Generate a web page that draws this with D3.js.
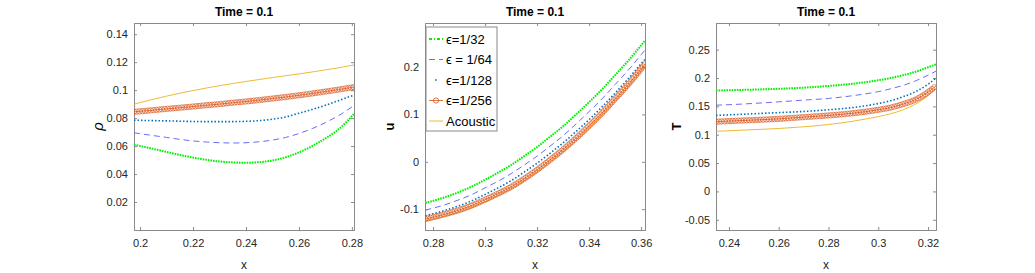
<!DOCTYPE html>
<html>
<head>
<meta charset="utf-8">
<script src="https://cdn.jsdelivr.net/npm/d3@7"></script>
<style>
body { margin: 0; background: #fff; }
svg text { font-family: "Liberation Sans", Arial, sans-serif; fill: #262626; }
</style>
</head>
<body>
<script>
// series names / legend
var labels = ["\u03f5=1/32", "\u03f5 = 1/64", "\u03f5=1/128", "\u03f5=1/256", "Acoustic"];

// panel 1: rho
var x1 = [0.1977, 0.205, 0.21, 0.215, 0.22, 0.225, 0.23, 0.235, 0.24, 0.245, 0.25, 0.255, 0.26, 0.265, 0.27, 0.275, 0.2808];
var rho32  = [0.0610, 0.0580, 0.0558, 0.0537, 0.0518, 0.0502, 0.0490, 0.0483, 0.0481, 0.0485, 0.0497, 0.0520, 0.0555, 0.0600, 0.0655, 0.0720, 0.0830];
var rho64  = [0.0695, 0.0675, 0.0662, 0.0648, 0.0637, 0.0629, 0.0624, 0.0622, 0.0624, 0.0631, 0.0643, 0.0662, 0.0690, 0.0725, 0.0768, 0.0818, 0.0890];
var rho128 = [0.0785, 0.0782, 0.0780, 0.0778, 0.0776, 0.0775, 0.0775, 0.0775, 0.0777, 0.0782, 0.0792, 0.0808, 0.0835, 0.0862, 0.0892, 0.0925, 0.0965];
var rho256 = [0.0845, 0.0857, 0.0866, 0.0874, 0.0883, 0.0892, 0.0900, 0.0910, 0.0919, 0.0929, 0.0940, 0.0951, 0.0963, 0.0976, 0.0990, 0.1004, 0.1022];
var rhoAc  = [0.0900, 0.0935, 0.0957, 0.0978, 0.0997, 0.1015, 0.1032, 0.1047, 0.1062, 0.1076, 0.1090, 0.1103, 0.1116, 0.1130, 0.1145, 0.1160, 0.1180];

// panel 2: u
var x2 = [0.277, 0.285, 0.29, 0.295, 0.30, 0.305, 0.31, 0.315, 0.32, 0.325, 0.33, 0.335, 0.34, 0.345, 0.35, 0.355, 0.36, 0.3615];
var u32  = [-0.087, -0.074, -0.064, -0.052, -0.038, -0.023, -0.007, 0.012, 0.031, 0.053, 0.075, 0.100, 0.126, 0.153, 0.183, 0.213, 0.246, 0.256];
var u64  = [-0.102, -0.090, -0.080, -0.069, -0.055, -0.041, -0.025, -0.007, 0.012, 0.033, 0.055, 0.080, 0.106, 0.133, 0.163, 0.193, 0.226, 0.236];
var u128 = [-0.114, -0.102, -0.093, -0.082, -0.069, -0.055, -0.040, -0.022, -0.003, 0.018, 0.040, 0.064, 0.089, 0.116, 0.145, 0.175, 0.207, 0.216];
var u256 = [-0.121, -0.110, -0.102, -0.092, -0.080, -0.067, -0.053, -0.036, -0.017, 0.004, 0.026, 0.050, 0.076, 0.103, 0.133, 0.163, 0.196, 0.206];
var uAc  = [-0.125, -0.114, -0.106, -0.096, -0.084, -0.071, -0.057, -0.040, -0.021, 0.000, 0.022, 0.046, 0.072, 0.099, 0.129, 0.159, 0.192, 0.202];

// panel 3: T
var x3 = [0.2348, 0.245, 0.26, 0.27, 0.28, 0.29, 0.30, 0.305, 0.31, 0.315, 0.32, 0.3232];
var T32  = [0.178, 0.179, 0.181, 0.183, 0.186, 0.190, 0.196, 0.200, 0.205, 0.211, 0.219, 0.224];
var T64  = [0.152, 0.154, 0.158, 0.161, 0.164, 0.169, 0.176, 0.181, 0.187, 0.195, 0.205, 0.212];
var T128 = [0.134, 0.136, 0.139, 0.141, 0.144, 0.148, 0.155, 0.160, 0.167, 0.176, 0.189, 0.200];
var T256 = [0.123, 0.125, 0.128, 0.131, 0.134, 0.138, 0.144, 0.148, 0.154, 0.162, 0.175, 0.186];
var TAc  = [0.106, 0.108, 0.111, 0.114, 0.118, 0.124, 0.132, 0.137, 0.144, 0.154, 0.169, 0.182];

// ticks
var xt1 = [0.2, 0.22, 0.24, 0.26, 0.28], yt1 = [0.02, 0.04, 0.06, 0.08, 0.1, 0.12, 0.14];
var xt2 = [0.28, 0.3, 0.32, 0.34, 0.36], yt2 = [-0.1, 0, 0.1, 0.2];
var xt3 = [0.24, 0.26, 0.28, 0.3, 0.32], yt3 = [-0.05, 0, 0.05, 0.1, 0.15, 0.2, 0.25];

var styles = [
  {color: "#00f000", width: 2, dash: "1.6,1"},
  {color: "#6b6bff", width: 1, dash: "6,4"},
  {color: "#0072bd", width: 1.6, dash: "1.5,2"},
  {color: "#d95319", width: 0.8, dash: null, marker: true},
  {color: "#edb120", width: 0.9, dash: null}
];

var panels = [
  {left: 134, xd: [0.1977, 0.2808], yd: [0, 0.148], xs: x1, ys: [rho32, rho64, rho128, rho256, rhoAc], xt: xt1, yt: yt1, ylab: "\u03c1", ylabX: 98, italic: true},
  {left: 425, xd: [0.2769, 0.3615], yd: [-0.144, 0.293], xs: x2, ys: [u32, u64, u128, u256, uAc], xt: xt2, yt: yt2, ylab: "u", ylabX: 389, bold: true},
  {left: 716, xd: [0.2348, 0.3232], yd: [-0.068, 0.297], xs: x3, ys: [T32, T64, T128, T256, TAc], xt: xt3, yt: yt3, ylab: "T", ylabX: 676, bold: true}
];

var W = 1035, H = 273, plotTop = 23, plotBottom = 230, pw = 220;
var svg = d3.select("body").append("svg").attr("width", W).attr("height", H);
var fmt = function(v) { return String(+v.toFixed(3)); };

panels.forEach(function(p, i) {
  var x = d3.scaleLinear().domain(p.xd).range([p.left, p.left + pw]);
  var y = d3.scaleLinear().domain(p.yd).range([plotBottom, plotTop]);
  var g = svg.append("g");

  svg.append("clipPath").attr("id", "clip" + i).append("rect")
    .attr("x", p.left).attr("y", plotTop).attr("width", pw).attr("height", plotBottom - plotTop);

  // axes with inward ticks on all sides
  g.append("g").attr("transform", "translate(0," + plotBottom + ")")
    .call(d3.axisBottom(x).tickValues(p.xt).tickSize(-3).tickPadding(9).tickFormat(fmt));
  g.append("g").attr("transform", "translate(0," + plotTop + ")")
    .call(d3.axisTop(x).tickValues(p.xt).tickSize(-3).tickFormat(""));
  g.append("g").attr("transform", "translate(" + p.left + ",0)")
    .call(d3.axisLeft(y).tickValues(p.yt).tickSize(-3).tickPadding(6).tickFormat(fmt));
  g.append("g").attr("transform", "translate(" + (p.left + pw) + ",0)")
    .call(d3.axisRight(y).tickValues(p.yt).tickSize(-3).tickFormat(""));
  g.selectAll(".domain").attr("stroke", "#8a8a8a");
  g.selectAll(".tick line").attr("stroke", "#8a8a8a");
  g.selectAll(".tick text").attr("font-size", 11).attr("fill", "#262626")
    .attr("font-family", "Liberation Sans, Arial, sans-serif");

  var plot = svg.append("g").attr("clip-path", "url(#clip" + i + ")");
  var line = d3.line().curve(d3.curveMonotoneX)
    .x(function(d, k) { return x(p.xs[k]); })
    .y(function(d) { return y(d); });

  // draw back to front: acoustic first
  [4, 0, 1, 2, 3].forEach(function(s) {
    var st = styles[s];
    var path = plot.append("path").datum(p.ys[s])
      .attr("d", line).attr("fill", "none")
      .attr("stroke", st.color).attr("stroke-width", st.width)
      .attr("stroke-dasharray", st.dash);
    if (st.marker) {
      // circle markers spaced along the drawn curve
      var node = path.node(), len = node.getTotalLength();
      var pts = d3.range(0, len, 2.8).map(function(l) { return node.getPointAtLength(l); });
      plot.append("g").selectAll("circle").data(pts).enter().append("circle")
        .attr("cx", function(d) { return d.x; }).attr("cy", function(d) { return d.y; })
        .attr("r", 2.7).attr("fill", "none")
        .attr("stroke", st.color).attr("stroke-width", 0.75).attr("stroke-opacity", 0.85);
    }
  });

  svg.append("text").attr("x", p.left + pw / 2).attr("y", 16)
    .attr("text-anchor", "middle").attr("font-size", 12).attr("font-weight", "bold")
    .style("fill", "#000").text("Time = 0.1");

  svg.append("text").attr("x", p.left + pw / 2).attr("y", 269)
    .attr("text-anchor", "middle").attr("font-size", 12).text("x");

  svg.append("text")
    .attr("transform", "translate(" + p.ylabX + "," + ((plotTop + plotBottom) / 2) + ") rotate(-90)")
    .attr("text-anchor", "middle").attr("dy", "0.35em")
    .attr("font-size", p.italic ? 15 : 13)
    .attr("font-style", p.italic ? "italic" : null)
    .attr("font-weight", p.bold ? "bold" : null)
    .style("fill", "#000")
    .text(p.ylab);
});

// legend in panel 2
var lg = svg.append("g").attr("transform", "translate(426,27)");
lg.append("rect").attr("width", 71).attr("height", 104)
  .attr("fill", "#fff").attr("stroke", "#8a8a8a").attr("stroke-width", 1);
labels.forEach(function(lab, s) {
  var st = styles[s], yy = 12 + s * 20.5;
  lg.append("line").attr("x1", 3).attr("x2", 17).attr("y1", yy).attr("y2", yy)
    .attr("stroke", st.color).attr("stroke-width", st.width)
    .attr("stroke-dasharray", s === 0 ? "3,2,1,2" : (s === 2 ? "0,6,1.6,8" : st.dash));
  if (st.marker) {
    lg.append("circle").attr("cx", 10).attr("cy", yy).attr("r", 2.6)
      .attr("fill", "none").attr("stroke", st.color).attr("stroke-width", 0.8);
  }
  lg.append("text").attr("x", 20).attr("y", yy).attr("dy", "0.36em")
    .attr("font-size", 13).style("fill", "#000").text(lab);
});
</script>
</body>
</html>
